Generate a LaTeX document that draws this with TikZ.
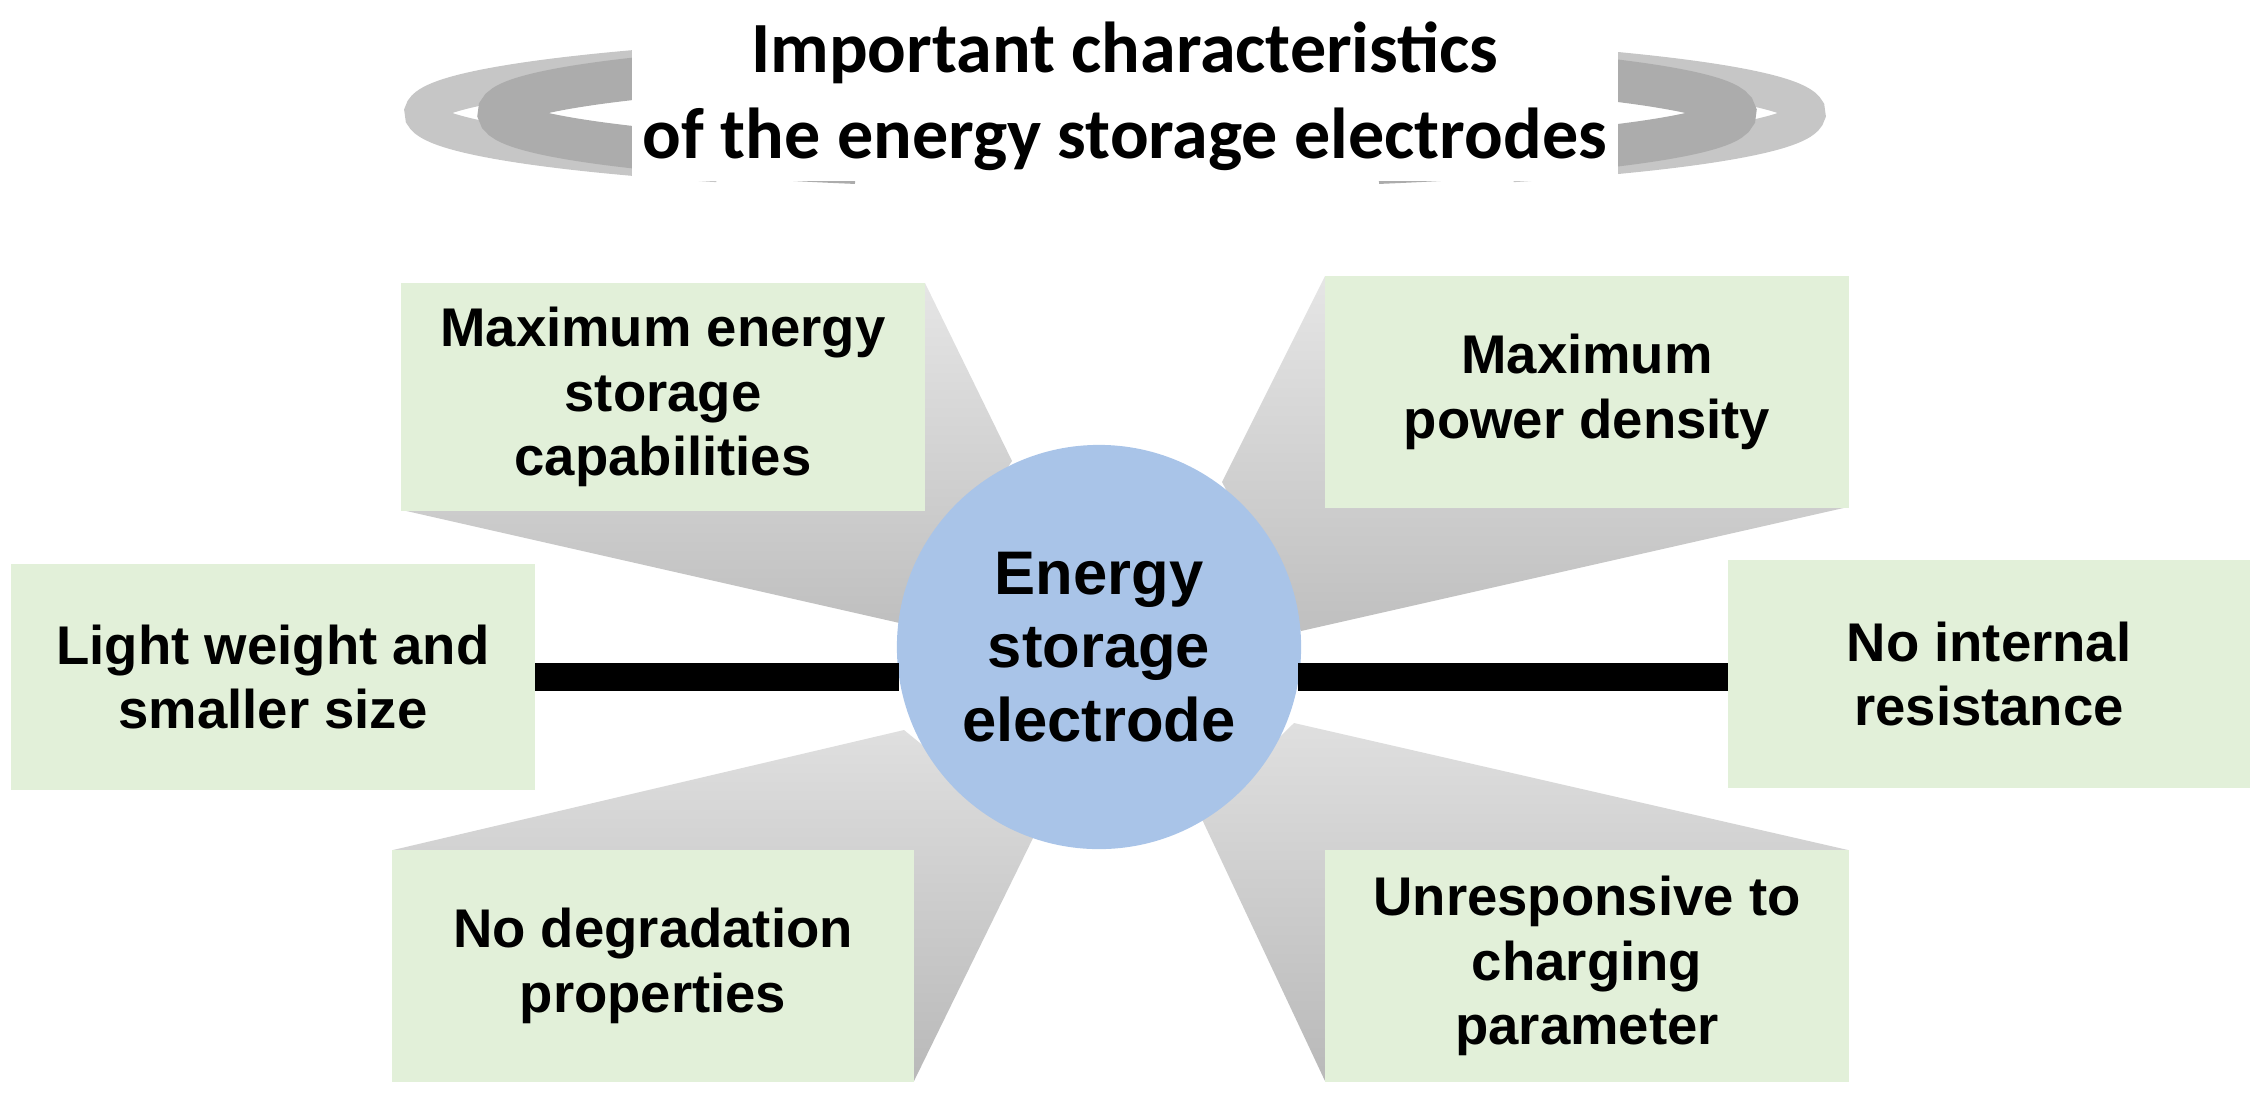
\documentclass[tikz,border=0pt]{standalone}
\usepackage{fontspec}
\setmainfont{Liberation Sans}
\newfontfamily\titlefont{Carlito}
\begin{document}
\begin{tikzpicture}[x=0.01cm,y=-0.01cm,
  box/.style={fill=boxgreen,draw=none,inner sep=0pt,align=center,font=\bfseries\fontsize{15.5}{18.3}\selectfont},
  wedge/.style={draw=none},
  bar/.style={line width=0.28cm}]
\definecolor{boxgreen}{HTML}{E2F0D9}
\definecolor{circblue}{HTML}{A9C4E8}
\useasboundingbox (0,0) rectangle (2267,1111);
% title swooshes
\draw[gray!45,line width=10pt] (1115,113) ++(125:693 and 63) arc[start angle=125,end angle=235,x radius=693,y radius=63];
\draw[gray!45,line width=10pt] (1115,113) ++(-55:693 and 63) arc[start angle=-55,end angle=55,x radius=693,y radius=63];
\draw[gray!65,line width=12pt] (1117,113) ++(115:618 and 55) arc[start angle=115,end angle=245,x radius=618,y radius=55];
\draw[gray!65,line width=12pt] (1117,113) ++(-65:618 and 55) arc[start angle=-65,end angle=65,x radius=618,y radius=55];
\node[font=\titlefont\bfseries\fontsize{20.5}{24.5}\selectfont,align=center,fill=white,inner sep=3pt] (title) at (1125,96) {Important characteristics\\of the energy storage electrodes};
% wedges
\shade[wedge,top color=gray!20,bottom color=gray!50] (402,510) -- (925,283) -- (1012,461) -- (904,624) -- cycle;
\shade[wedge,top color=gray!20,bottom color=gray!50] (1325,276) -- (1848,507) -- (1301,631) -- (1222,482) -- cycle;
\shade[wedge,top color=gray!25,bottom color=gray!55] (393,850) -- (904,730) -- (1034,836) -- (914,1081) -- cycle;
\shade[wedge,top color=gray!25,bottom color=gray!55] (1848,850) -- (1325,1081) -- (1200,815) -- (1294,723) -- cycle;
% boxes
\node[box,minimum width=5.23cm,minimum height=2.27cm] (tl) at (663,397) {Maximum energy\\storage\\capabilities};
\node[box,minimum width=5.23cm,minimum height=2.31cm] (tr) at (1587,392) {Maximum\\power density};
\node[box,minimum width=5.23cm,minimum height=2.25cm] (l) at (273,677) {Light weight and\\smaller size};
\node[box,minimum width=5.21cm,minimum height=2.27cm] (r) at (1989,674) {No internal\\resistance};
\node[box,minimum width=5.21cm,minimum height=2.31cm] (bl) at (653,966) {No degradation\\properties};
\node[box,minimum width=5.23cm,minimum height=2.31cm] (br) at (1587,966) {Unresponsive to\\charging\\parameter};
% center
\node[circle,fill=circblue,minimum size=4.04cm,inner sep=0pt,align=center,font=\bfseries\fontsize{17.5}{21}\selectfont] (c) at (1099,647) {Energy\\storage\\electrode};
\coordinate (la) at (535,677);
\coordinate (lb) at (899,677);
\coordinate (ra) at (1298,677);
\coordinate (rb) at (1728,677);
\draw[bar] (l.east |- la) -- (lb);
\draw[bar] (ra) -- (r.west |- rb);
\end{tikzpicture}
\end{document}
